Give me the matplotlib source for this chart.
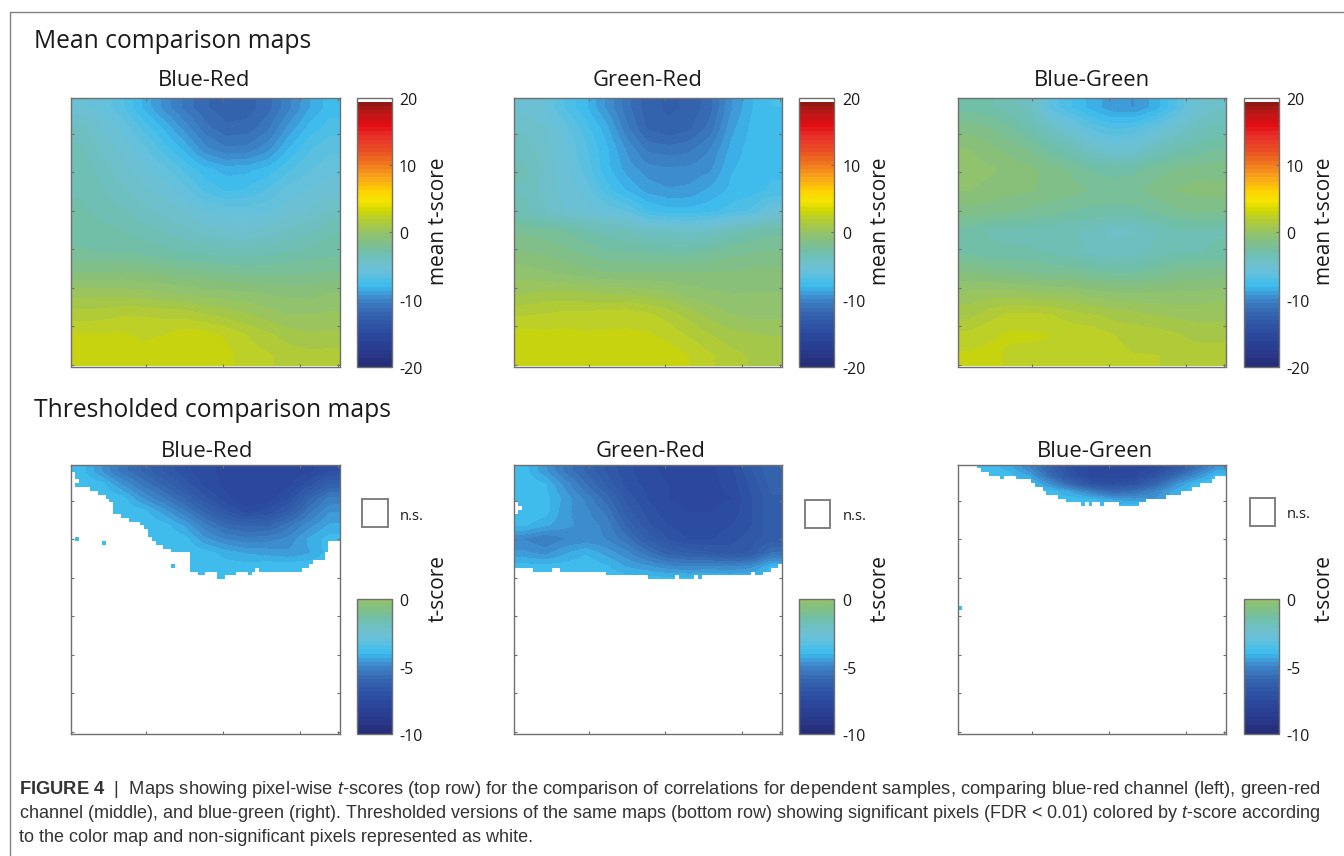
#!/usr/bin/env python3
# Pixel-wise t-score maps: mean row on top, thresholded row below
import numpy as np
import matplotlib
matplotlib.use('Agg')
import matplotlib.pyplot as plt
from matplotlib.colors import LinearSegmentedColormap, ListedColormap, Normalize
from matplotlib.cm import ScalarMappable
from matplotlib.lines import Line2D
from matplotlib.transforms import ScaledTranslation

plt.rcParams['font.family'] = ['Open Sans', 'DejaVu Sans']
plt.rcParams['mathtext.fontset'] = 'custom'
plt.rcParams['mathtext.rm'] = 'Liberation Sans'
plt.rcParams['mathtext.it'] = 'Liberation Sans:italic'
plt.rcParams['mathtext.bf'] = 'Liberation Sans:bold'

W, H = 1344, 856

map_names = ['Blue-Red', 'Green-Red', 'Blue-Green']
mean_ticks = [-20, -10, 0, 10, 20]
thresh_ticks = [-10, -5, 0]

# mean t-score (coarse grid, top to bottom)
mean_blue_red = [
    [-5.5, -5.8, -6.8, -8.2, -9.6, -10.8, -11.8, -12.3, -12.2, -11.5, -10.2, -8.8, -7.8],
    [-4.2, -5.0, -5.8, -7.0, -8.2, -9.6, -11.0, -11.7, -11.6, -10.8, -9.2, -7.9, -7.2],
    [-3.6, -4.5, -5.2, -6.0, -7.2, -8.3, -9.8, -10.5, -10.4, -9.6, -8.1, -7.0, -6.4],
    [-3.4, -4.0, -4.8, -5.4, -6.0, -7.0, -7.9, -8.4, -8.3, -7.9, -7.0, -6.3, -5.8],
    [-3.2, -3.7, -4.2, -4.8, -5.3, -6.0, -7.0, -7.6, -7.4, -6.8, -6.0, -5.6, -5.3],
    [-3.0, -3.3, -3.7, -4.2, -4.6, -5.1, -5.7, -5.9, -5.9, -5.8, -5.3, -5.0, -4.3],
    [-2.8, -2.9, -3.1, -3.4, -3.8, -4.2, -4.6, -4.9, -5.0, -4.6, -4.2, -3.8, -3.2],
    [-2.4, -2.5, -2.5, -2.7, -2.9, -3.1, -3.3, -3.4, -3.5, -3.3, -3.1, -2.9, -2.7],
    [-1.2, -1.2, -1.1, -1.2, -1.4, -1.6, -1.7, -1.9, -2.0, -2.0, -2.0, -1.9, -1.8],
    [0.4, 0.4, 0.4, 0.3, 0.1, -0.1, -0.3, -0.4, -0.5, -0.7, -0.8, -0.8, -0.6],
    [1.5, 1.6, 1.8, 1.8, 1.7, 1.6, 1.3, 1.0, 0.7, 0.3, 0.0, 0.0, 0.1],
    [2.6, 2.6, 2.6, 2.4, 2.5, 2.9, 2.8, 2.4, 1.9, 1.4, 1.0, 0.7, 0.8],
    [3.0, 3.0, 2.8, 2.7, 2.9, 3.0, 3.0, 2.7, 2.2, 2.0, 1.6, 1.5, 1.5],
]
mean_green_red = [
    [-5.2, -5.6, -7.0, -8.0, -9.5, -11.0, -12.3, -12.6, -12.4, -11.5, -9.5, -8.2, -7.5],
    [-4.5, -5.0, -6.0, -7.2, -8.5, -10.5, -12.0, -12.4, -12.0, -11.0, -9.0, -8.0, -7.6],
    [-4.0, -4.7, -5.6, -6.8, -8.0, -9.5, -10.8, -11.0, -10.8, -10.0, -8.6, -7.8, -7.6],
    [-3.6, -4.5, -5.4, -6.5, -7.9, -9.0, -9.7, -9.9, -9.8, -9.5, -8.2, -7.8, -7.6],
    [-3.8, -4.6, -5.3, -5.9, -7.2, -8.2, -9.0, -9.3, -9.2, -8.6, -8.0, -7.8, -7.4],
    [-3.6, -4.2, -5.0, -5.3, -5.8, -6.3, -7.5, -7.9, -7.9, -7.7, -7.2, -6.8, -5.5],
    [-2.0, -2.2, -2.5, -3.0, -3.4, -3.7, -4.2, -4.3, -4.5, -4.3, -3.6, -3.0, -2.7],
    [-1.2, -1.4, -1.7, -2.0, -2.4, -2.5, -2.6, -2.7, -2.7, -2.4, -2.1, -1.9, -1.8],
    [-0.3, -0.5, -0.7, -1.0, -1.2, -1.2, -1.2, -1.2, -1.2, -1.2, -1.2, -1.1, -1.0],
    [0.6, 0.8, 0.8, 0.7, 0.6, 0.5, 0.4, 0.1, -0.3, -0.5, -0.6, -0.6, -0.6],
    [1.8, 1.9, 2.1, 2.1, 2.2, 2.3, 2.0, 1.6, 1.0, 0.4, 0.0, -0.2, -0.2],
    [2.8, 2.7, 2.7, 2.6, 2.6, 2.6, 2.6, 2.3, 1.8, 1.3, 0.9, 0.7, 0.6],
    [3.0, 2.9, 2.9, 3.0, 3.0, 3.0, 3.0, 2.9, 2.5, 2.0, 1.5, 1.2, 1.0],
]
mean_blue_green = [
    [-2.8, -3.0, -3.5, -4.0, -6.5, -7.5, -8.4, -9.2, -9.4, -8.5, -7.0, -5.2, -4.5],
    [-1.5, -1.8, -2.4, -3.2, -4.2, -5.3, -6.5, -7.0, -6.8, -6.0, -5.0, -4.0, -3.5],
    [-0.6, -1.0, -1.5, -2.0, -2.8, -3.5, -4.5, -5.2, -5.0, -4.0, -3.3, -2.9, -2.5],
    [-0.3, -0.5, -0.8, -1.1, -1.5, -2.0, -2.6, -2.8, -2.7, -2.2, -1.8, -1.6, -1.5],
    [-0.6, -0.8, -1.0, -1.2, -1.4, -1.6, -1.9, -2.1, -2.0, -1.6, -1.2, -1.0, -1.0],
    [-1.5, -1.6, -1.8, -2.0, -2.2, -2.5, -2.7, -2.7, -2.7, -2.4, -2.0, -1.8, -1.8],
    [-2.8, -3.2, -3.3, -3.5, -3.5, -3.7, -3.9, -4.5, -4.4, -3.8, -3.3, -3.2, -3.2],
    [-2.6, -3.0, -3.0, -3.0, -3.2, -3.5, -4.0, -4.2, -4.0, -3.6, -3.2, -3.2, -3.0],
    [-1.2, -1.4, -1.6, -1.8, -2.0, -2.0, -2.3, -2.5, -2.5, -2.2, -1.8, -1.6, -1.6],
    [0.2, 0.3, 0.3, 0.2, 0.1, 0.0, -0.3, -0.5, -0.6, -0.5, -0.5, -0.5, -0.3],
    [1.0, 1.6, 2.0, 2.0, 1.9, 1.5, 1.3, 1.0, 0.8, 0.6, 0.4, 0.4, 0.4],
    [2.1, 2.4, 2.6, 2.6, 2.5, 2.4, 2.3, 1.9, 1.7, 1.6, 1.4, 1.0, 1.0],
    [2.6, 2.7, 2.4, 2.3, 2.4, 2.4, 2.2, 2.0, 1.9, 1.9, 1.8, 1.7, 1.7],
]

# t-scores of the significant part, top rows of the bottom maps only
thresh_blue_red = [
    [-3.9, -4.7, -5.5, -6.0, -6.6, -7.1, -7.4, -7.6, -7.7, -7.7, -7.7, -7.6, -7.2],
    [-3.8, -3.9, -4.7, -5.4, -6.0, -6.7, -7.3, -7.6, -7.8, -7.8, -7.6, -7.0, -6.2],
    [-3.8, -3.8, -3.9, -4.7, -5.3, -6.0, -6.8, -7.4, -7.8, -7.7, -7.2, -6.0, -5.2],
    [-3.8, -3.8, -3.8, -3.9, -4.5, -5.2, -6.0, -6.8, -7.3, -7.1, -6.4, -5.4, -4.7],
    [-3.8, -3.8, -3.8, -3.8, -3.9, -4.4, -5.2, -5.8, -6.0, -6.0, -5.4, -4.8, -4.3],
    [-3.8, -3.8, -3.8, -3.8, -3.8, -3.9, -4.6, -5.0, -5.2, -5.1, -4.9, -4.3, -3.9],
    [-3.8, -3.8, -3.8, -3.8, -3.8, -3.8, -3.9, -4.2, -4.4, -4.5, -4.6, -4.4, -3.9],
    [-3.8, -3.8, -3.8, -3.8, -3.8, -3.8, -3.8, -3.9, -3.9, -3.8, -3.8, -3.8, -3.8],
    [-3.8, -3.8, -3.8, -3.8, -3.8, -3.8, -3.8, -3.8, -3.8, -3.8, -3.8, -3.8, -3.8],
]
thresh_green_red = [
    [-3.9, -4.6, -5.4, -6.0, -6.6, -7.1, -7.4, -7.6, -7.7, -7.6, -7.3, -6.6, -6.0],
    [-3.8, -4.0, -4.8, -5.6, -6.3, -7.0, -7.3, -7.5, -7.7, -7.6, -7.4, -6.8, -6.1],
    [-3.8, -3.9, -4.5, -5.1, -5.8, -6.7, -7.2, -7.5, -7.6, -7.6, -7.5, -6.9, -6.3],
    [-3.8, -3.9, -4.6, -4.9, -5.4, -6.4, -7.0, -7.4, -7.5, -7.5, -7.4, -6.9, -6.3],
    [-4.0, -4.3, -4.6, -4.8, -5.1, -6.0, -6.8, -7.2, -7.4, -7.4, -7.2, -6.9, -6.3],
    [-5.0, -5.3, -5.0, -4.9, -5.0, -5.5, -6.3, -6.9, -7.2, -7.2, -7.0, -6.7, -6.4],
    [-4.6, -4.8, -4.4, -4.1, -4.5, -4.9, -5.5, -6.1, -6.3, -6.5, -6.7, -6.5, -5.6],
    [-3.9, -3.9, -3.9, -3.8, -4.0, -4.4, -4.6, -4.9, -5.0, -4.9, -5.0, -4.8, -4.0],
    [-3.8, -3.8, -3.8, -3.8, -3.8, -3.8, -3.8, -3.8, -3.8, -3.8, -3.8, -3.8, -3.8],
]
thresh_blue_green = [
    [-3.8, -3.9, -4.2, -5.0, -6.2, -7.2, -7.6, -7.7, -7.7, -7.5, -6.7, -5.6, -4.6],
    [-3.8, -3.8, -3.9, -4.4, -5.8, -7.0, -7.6, -7.7, -7.6, -7.0, -5.8, -4.8, -3.9],
    [-3.8, -3.8, -3.8, -3.9, -4.8, -6.0, -7.0, -7.2, -7.0, -6.0, -4.8, -3.9, -3.8],
    [-3.8, -3.8, -3.8, -3.8, -3.9, -4.4, -5.2, -5.9, -5.6, -5.0, -4.2, -3.8, -3.8],
    [-3.8, -3.8, -3.8, -3.8, -3.8, -3.9, -4.0, -4.4, -4.6, -4.6, -4.2, -3.9, -3.8],
    [-3.8, -3.8, -3.8, -3.8, -3.8, -3.8, -3.8, -3.8, -3.8, -3.8, -3.8, -3.8, -3.8],
]

# how many rows of each of the 70 columns are significant
depth_blue_red = [2, 6, 6, 6, 6, 7, 7, 8, 8, 9, 10, 13, 13, 14, 14, 15, 15, 15, 16, 17,
                  19, 20, 21, 21, 22, 22, 23, 23, 23, 23, 23, 28, 28, 29, 29, 28, 28, 28, 30, 30,
                  29, 29, 29, 28, 28, 28, 29, 28, 27, 28, 28, 28, 28, 28, 28, 28, 28, 28, 28, 28,
                  27, 27, 26, 25, 25, 25, 23, 20, 20, 20]
depth_green_red = [27, 27, 27, 27, 27, 28, 28, 28, 28, 28, 27, 27, 28, 28, 28, 28, 28, 28, 28, 28,
                   28, 28, 28, 28, 29, 29, 29, 29, 29, 29, 29, 29, 29, 29, 29, 30, 30, 30, 30, 30,
                   30, 30, 29, 30, 30, 30, 30, 29, 30, 29, 29, 29, 29, 29, 29, 29, 29, 29, 29, 29,
                   29, 29, 28, 29, 29, 28, 28, 27, 27, 26]
depth_blue_green = [0, 0, 0, 0, 0, 1, 2, 2, 3, 3, 3, 4, 3, 3, 3, 4, 4, 4, 4, 5,
                    6, 6, 7, 8, 8, 8, 9, 9, 10, 10, 10, 10, 11, 10, 11, 10, 10, 11, 10, 10,
                    10, 10, 11, 11, 11, 11, 11, 10, 10, 9, 9, 9, 9, 9, 8, 8, 8, 8, 7, 7,
                    7, 6, 6, 5, 5, 5, 4, 3, 3, 3]

# lone significant pixels and white holes as (row, column)
specks_blue_red = [(19, 1), (20, 8), (26, 26)]
specks_green_red = []
specks_blue_green = [(37, 0)]
holes_blue_red = [(4, 1)]
holes_green_red = [(10, 0), (11, 0), (11, 1), (12, 0)]
holes_blue_green = []
speck_value = -3.8

mean_maps = [mean_blue_red, mean_green_red, mean_blue_green]
thresh_maps = [thresh_blue_red, thresh_green_red, thresh_blue_green]
depths = [depth_blue_red, depth_green_red, depth_blue_green]
specks = [specks_blue_red, specks_green_red, specks_blue_green]
holes = [holes_blue_red, holes_green_red, holes_blue_green]
thresh_spans = [32, 32, 12]

caption = [
    r'$\mathbf{FIGURE\ 4}$  |  Maps showing pixel-wise $\mathit{t}$-scores (top row) for the comparison of correlations for dependent samples, comparing blue-red channel (left), green-red',
    r'channel (middle), and blue-green (right). Thresholded versions of the same maps (bottom row) showing significant pixels (FDR < 0.01) colored by $\mathit{t}$-score according',
    'to the color map and non-significant pixels represented as white.',
]

# jet-like map with its blue half stretched, top level is white
stops = [(-20, '#252c76'), (-17, '#2a3f93'), (-15, '#2c4a9e'), (-12, '#3565b0'), (-10.5, '#3a7cc0'),
         (-9.3, '#3f95d5'), (-8, '#3bbcee'), (-6.5, '#5cc0e0'), (-5.5, '#6cc0d8'), (-4, '#6fc0c0'),
         (-2.8, '#72bfa8'), (-1.2, '#85c080'), (0, '#95c368'), (1.3, '#aac840'), (2.2, '#bcd02a'),
         (3.2, '#cdd600'), (4.5, '#f4e400'), (6, '#ffd500'), (8, '#f9a81a'), (10, '#f07c1e'),
         (12, '#ea5124'), (14, '#e8352a'), (16, '#e30d14'), (18, '#b51818'), (19.2, '#8d1a14'),
         (20, '#8d1a14')]
smooth = LinearSegmentedColormap.from_list('tmap', [((v + 20) / 40, c) for v, c in stops], N=512)
levels = smooth((np.arange(63) + 0.5) / 64)
mean_cmap = ListedColormap(list(levels) + ['white'])
thresh_cmap = ListedColormap(smooth((np.arange(32) + 0.5) / 64))
white_cmap = ListedColormap(['white'])
mean_norm = Normalize(-20, 20)
thresh_norm = Normalize(-10, 0)

FRAME = '#6f6f6f'
TEXT = '#1a1a1a'
full = (0.5, 70.5, 70.5, 0.5)

fig = plt.figure(figsize=(W / 100, H / 100), dpi=100)


def box(x0, y0, x1, y1):
    # pixel box of the reference to figure coordinates
    return [x0 / W, 1 - y1 / H, (x1 - x0) / W, (y1 - y0) / H]


def label(x, y, s, **kw):
    fig.text(x / W, 1 - y / H, s, color=TEXT, **kw)


def style_map(ax):
    ax.set_xlim(0.5, 70.5)
    ax.set_ylim(70.5, 0.5)
    ax.set_aspect('auto')
    ax.set_xticks([20, 40, 60, 70])
    ax.set_yticks([10, 20, 30, 40, 50, 60, 70])
    ax.tick_params(direction='in', length=2, width=0.8, color=FRAME, top=True, right=True,
                   labelbottom=False, labelleft=False)
    for s in ax.spines.values():
        s.set_color(FRAME)
        s.set_linewidth(1.0)


def add_bar(x0, y0, x1, y1, cmap, norm, ticks, text_x, name, name_x, name_y):
    cax = fig.add_axes(box(x0, y0, x1, y1))
    cbar = fig.colorbar(ScalarMappable(norm, cmap), cax=cax)
    cbar.set_ticks(ticks, labels=[str(t) for t in ticks])
    cax.tick_params(direction='in', length=2, width=0.8, color=FRAME, labelsize=11.5,
                    labelcolor=TEXT, pad=text_x - x1 - 2)
    # labels sit a little under their ticks in the reference
    nudge = ScaledTranslation(0, -1.0 / 72, fig.dpi_scale_trans)
    for t in cax.yaxis.get_major_ticks():
        t.label2.set_transform(t.label2.get_transform() + nudge)
    cbar.outline.set_edgecolor(FRAME)
    cbar.outline.set_linewidth(1.0)
    label(name_x, name_y, name, rotation=90, ha='center', va='center', fontsize=15)


map_left = [71, 514, 957.5]
map_right = [340, 782, 1226]
bar_left = [357, 799, 1244]
text_left = [399, 842, 1286]
name_x = [438, 880, 1324]
top_title_x = [204.5, 648, 1092]
low_title_x = [207.5, 651, 1095]
ns_left = [362, 804.5, 1249.5]
ns_top = [499, 499.5, 497.5]

for i in range(3):
    # top row
    ax = fig.add_axes(box(map_left[i], 97.5, map_right[i], 366.5))
    ax.imshow(mean_maps[i], cmap=mean_cmap, norm=mean_norm, extent=full, interpolation='bilinear')
    style_map(ax)
    label(top_title_x[i], 81, map_names[i], ha='center', va='center', fontsize=15.8)
    add_bar(bar_left[i], 97.5, bar_left[i] + 35, 366.5, mean_cmap, mean_norm, mean_ticks,
            text_left[i], 'mean t-score', name_x[i], 221)

    # bottom row, the white cells and the lone pixels go over the coarse values
    ax = fig.add_axes(box(map_left[i], 464.5, map_right[i], 733.5))
    ax.imshow(thresh_maps[i], cmap=thresh_cmap, norm=thresh_norm,
              extent=(0.5, 70.5, thresh_spans[i] + 0.5, 0.5), interpolation='bilinear')
    rows = np.arange(70)[:, None]
    white = rows >= np.array(depths[i])[None, :]
    for r, c in holes[i]:
        white[r, c] = True
    ax.imshow(np.ma.masked_where(~white, np.ones((70, 70))), cmap=white_cmap, extent=full,
              interpolation='nearest')
    if len(specks[i]) > 0:
        lone = np.ma.masked_all((70, 70))
        for r, c in specks[i]:
            lone[r, c] = speck_value
        ax.imshow(lone, cmap=thresh_cmap, norm=thresh_norm, extent=full, interpolation='nearest')
    style_map(ax)
    label(low_title_x[i], 451, map_names[i], ha='center', va='center', fontsize=15.8)
    add_bar(bar_left[i], 599, bar_left[i] + 35, 733.5, thresh_cmap, thresh_norm, thresh_ticks,
            text_left[i], 't-score', name_x[i], 588)

    # n.s. key
    key = fig.add_axes(box(ns_left[i], ns_top[i], ns_left[i] + 25.5, ns_top[i] + 28))
    key.set_xticks([])
    key.set_yticks([])
    for s in key.spines.values():
        s.set_color('#808080')
        s.set_linewidth(1.4)
    label(text_left[i] + 1, ns_top[i] + 17, 'n.s.', ha='left', va='center', fontsize=10.5)

label(34, 42, 'Mean comparison maps', ha='left', va='center', fontsize=17.7)
label(34, 410, 'Thresholded comparison maps', ha='left', va='center', fontsize=17.7)

# caption, the first line is justified wider in the reference
for y, line, size in zip([789, 813, 838], caption, [13.2, 12.95, 12.95]):
    fig.text(19 / W, 1 - y / H, line, ha='left', va='center', fontsize=size,
             family='Liberation Sans', color='#333333')

# page frame
fig.add_artist(Line2D([9.5 / W, 9.5 / W, 1], [0, 1 - 11.5 / H, 1 - 11.5 / H], color='#808080', lw=1.0))

fig.savefig('out.png', dpi=100)
